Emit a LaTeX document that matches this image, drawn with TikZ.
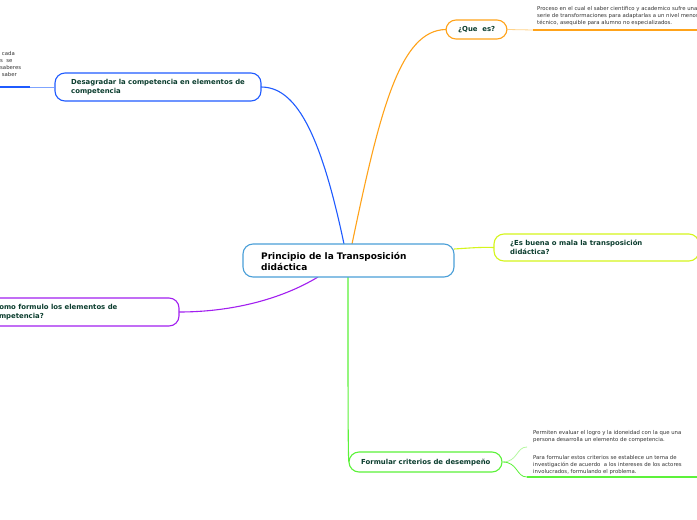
\documentclass[tikz,border=0pt]{standalone}
\usepackage{fontspec}
\setmainfont{DejaVu Sans}
\definecolor{txtg}{HTML}{0B3D2E}
\definecolor{cOrange}{HTML}{FFA31A}
\definecolor{cOrangeL}{HTML}{FFD38A}
\definecolor{cBlue}{HTML}{1F5BFF}
\definecolor{cBlueL}{HTML}{7FA4FF}
\definecolor{cPurple}{HTML}{A21FF0}
\definecolor{cYellow}{HTML}{D5F51C}
\definecolor{cGreen}{HTML}{5CF23A}
\definecolor{cGreenL}{HTML}{B5F8A0}
\definecolor{cCenter}{HTML}{4A9FD8}
\definecolor{smalltxt}{HTML}{333333}
\tikzset{
  topic/.style={draw, line width=1.1pt, rounded corners=10pt, fill=white, inner sep=0pt, anchor=center},
  lbl/.style={align=left, text=txtg, font=\bfseries\fontsize{6.9}{9}\selectfont, inner sep=0pt, anchor=west},
  subtxt/.style={align=left, text=smalltxt, font=\fontsize{5.35}{7}\selectfont, inner sep=0pt, anchor=north west},
  conn/.style={line width=1.1pt},
  uline/.style={line width=2pt}
}
\begin{document}
\begin{tikzpicture}[x=1pt,y=-1pt]
\useasboundingbox (0,0) rectangle (697,520);
\clip (0,0) rectangle (697,520);
\fill[white] (0,0) rectangle (697,520);

% coordinates
\coordinate (cOr) at (352,244);
\coordinate (cBl) at (344,244);
\coordinate (cPu) at (318,277);
\coordinate (cYe) at (454,249);
\coordinate (cGr) at (348,277);
\coordinate (queR) at (533,30);
\coordinate (queE) at (697,30);
\coordinate (desL) at (30,87);
\coordinate (desE) at (0,87);
\coordinate (f1) at (527,447);
\coordinate (f2) at (527,477);
\coordinate (f2E) at (697,477);

% connectors (drawn first, boxes on top)
\draw[conn, cOrange] (cOr) .. controls (380,110) and (400,30) .. (446,29.5);
\draw[conn, cBlue] (cBl) .. controls (320,130) and (295,87) .. (261,87);
\draw[conn, cPurple] (cPu) .. controls (280,300) and (230,312) .. (179,312);
\draw[conn, cYellow] (cYe) .. controls (470,248) and (480,247) .. (494,247.5);
\draw[conn, cGreen] (cGr) .. controls (348,400) and (348,462) .. (349,462);

% boxes
\node[topic, draw=cCenter, minimum width=211pt, minimum height=33pt] (center) at (348.5,260.5) {};
\node[topic, draw=cOrange, minimum width=61pt, minimum height=19pt] (que) at (476.5,29.5) {};
\node[topic, draw=cBlue, minimum width=206pt, minimum height=28pt] (desa) at (158,87) {};
\node[topic, draw=cPurple, minimum width=210pt, minimum height=28pt] (como) at (74,312) {};
\node[topic, draw=cYellow, minimum width=205pt, minimum height=27pt] (buena) at (596.5,247.5) {};
\node[topic, draw=cGreen, minimum width=153pt, minimum height=20pt] (form) at (425.5,462) {};

% labels
\node[lbl, text=black, font=\bfseries\fontsize{9}{11}\selectfont] (centerT) at (261,261.5) {Principio de la Transposición\\didáctica};
\node[lbl] (queT) at (458,30) {¿Que\ \ es?};
\node[lbl] (desaT) at (71,87.5) {Desagradar la competencia en elementos de\\competencia};
\node[lbl] (comoT) at (-10,312.5) {¿Como formulo los elementos de\\competencia?};
\node[lbl] (buenaT) at (510,247.5) {¿Es buena o mala la transposición\\didáctica?};
\node[lbl] (formT) at (361,462.5) {Formular criterios de desempeño};

% sub-branches
\draw[line width=0.8pt, cOrangeL] (que.east) -- (queR);
\draw[uline, cOrange] (queR) -- (queE);
\draw[line width=0.8pt, cBlueL] (desa.west) -- (desL);
\draw[uline, cBlue] (desL) -- (desE);
\draw[line width=0.8pt, cGreenL] (form.east) .. controls (518,462) and (516,447) .. (f1);
\draw[line width=0.8pt, cGreen] (form.east) .. controls (518,462) and (516,477) .. (f2);
\draw[uline, cGreen] (f2) -- (f2E);

% subtopic texts
\node[subtxt] (t1) at (537,6) {Proceso en el cual el saber cientifico y academico sufre una\\serie de transformaciones para adaptarlas a un nivel menos\\técnico, asequible para alumno no especializados.};
\node[subtxt] (t2) at (533,430) {Permiten evaluar el logro y la idoneidad con la que una\\persona desarrolla un elemento de competencia.};
\node[subtxt] (t3) at (533,455) {Para formular estos criterios se establece un tema de\\investigación de acuerdo\ \ a los intereses de los actores\\involucrados, formulando el problema.};
\node[subtxt] (t4) at (0,51) {\ cada\\s\ \ se\\saberes\\\ saber};
\end{tikzpicture}
\end{document}
